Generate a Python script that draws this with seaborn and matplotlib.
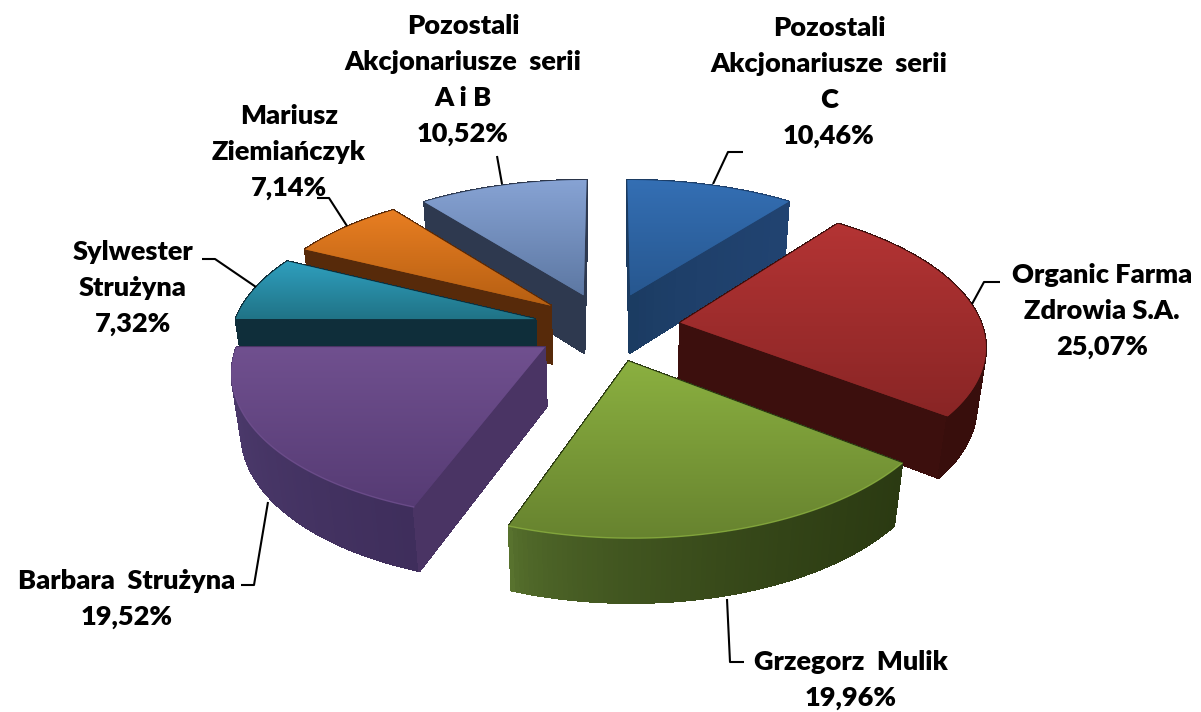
import matplotlib
matplotlib.use("Agg")
import matplotlib.pyplot as plt
import numpy as np
import seaborn as sns
from matplotlib.collections import PolyCollection
from matplotlib.colors import LinearSegmentedColormap, to_rgb
from matplotlib.path import Path
from matplotlib.transforms import Affine2D, Transform

# data
names = ["Pozostali\nAkcjonariusze  serii\nC", "Organic Farma\nZdrowia S.A.", "Grzegorz  Mulik",
         "Barbara  Strużyna", "Sylwester\nStrużyna", "Mariusz\nZiemiańczyk",
         "Pozostali\nAkcjonariusze  serii\nA i B"]
shares = [10.46, 25.07, 19.96, 19.52, 7.32, 7.14, 10.52]

# colours: top of slice (back edge, front edge), rim (left, right), cut faces
top_back = ["#346fb4", "#b43434", "#8bb040", "#70508f", "#2f9fbe", "#e87e22", "#87a3d4"]
top_front = ["#27578f", "#892525", "#67832f", "#563b74", "#207386", "#b65f12", "#5d78a3"]
side_left = ["#1a3a5f", "#3f100e", "#58722e", "#4c3a6c", "#0f2f3b", "#5a2b0b", "#333f57"]
side_right = ["#214371", "#380e0c", "#2b3a12", "#3a2a56", "#0f2d38", "#512608", "#2a3448"]
side_cut = ["#1c3e68", "#3c0f0d", "#2b3a12", "#4a3464", "#0f2e3a", "#572a0a", "#2e394f"]

# label layout, pixels
label_xy = [(829, 82), (1102, 311), (851, 680), (127, 599), (133, 288), (289, 152), (463, 80)]
leaders_x = [[743, 728, 713], [1000, 984, 972], [744, 730, 727], [241, 254, 268],
             [202, 215, 256], [317, 329, 347], [497, 502]]
leaders_y = [[152, 152, 184], [282, 282, 304], [662, 662, 599], [585, 585, 502],
             [259, 259, 287], [198, 198, 226], [156, 184]]

# camera fitted to the picture
CX, CY, FX, FY, PERSP, DEPTH, SHRINK = 607, 327, 302, 140.4, 0.144, 60, 0.025
N_EDGE, N_ARC = 24, 90


def project(xy, z=0.0):
    xy = np.asarray(xy, dtype=float)
    s = 1 / (1 + PERSP * xy[:, 1] + SHRINK * z)
    return np.column_stack([CX + FX * xy[:, 0] * s, CY - FY * xy[:, 1] * s + DEPTH * z * s])


class Tilt(Transform):
    input_dims = output_dims = 2

    def transform_non_affine(self, values):
        return project(values)

    def transform_path_non_affine(self, path):
        poly = path.to_polygons(Affine2D().scale(800), closed_only=True)[0] / 800
        return Path(project(poly))


def outline(w):
    t = np.radians(np.linspace(w.theta1, w.theta2, N_ARC))
    c = np.asarray(w.center)
    arc = c + w.r * np.column_stack([np.cos(t), np.sin(t)])
    f = np.linspace(0, 1, N_EDGE)[:, None]
    return np.vstack([c + f * (arc[0] - c), arc[1:], arc[-1] + f[1:] * (c - arc[-1])]), arc


sns.set_theme(style="white")
plt.rcParams["font.family"] = ["Lato", "DejaVu Sans"]

fig = plt.figure(figsize=(12.01, 7.12), dpi=100)
ax = fig.add_axes([0, 0, 1, 1])

wedges, _ = ax.pie(shares, explode=[0.246] * len(shares), startangle=90, counterclock=False, radius=1)
ax.set_aspect("auto")

# sides, back slices first
order = sorted(range(len(wedges)), key=lambda i: -wedges[i].center[1])
for rank, i in enumerate(order):
    w = wedges[i]
    ring, _arc = outline(w)
    up = project(ring, 0)
    down = project(ring, 1)
    quads = np.stack([up[:-1], up[1:], down[1:], down[:-1]], axis=1)
    keep = np.argsort(-ring[:-1, 1])
    xs = quads[:, :, 0].mean(axis=1)
    frac = ((xs - xs.min()) / (xs.max() - xs.min())) ** 0.55
    cols = (1 - frac[:, None]) * np.array(to_rgb(side_left[i])) + frac[:, None] * np.array(to_rgb(side_right[i]))
    is_arc = np.zeros(len(quads), dtype=bool)
    is_arc[N_EDGE - 1:N_EDGE - 1 + N_ARC - 1] = True
    if i != 0:
        cols[~is_arc] = to_rgb(side_cut[i])
    ax.add_collection(PolyCollection(quads[keep], facecolors=cols[keep], edgecolors=cols[keep],
                                     linewidths=1.0, antialiaseds=False, zorder=2 + rank))

# top faces: the pie wedges themselves, with a vertical gradient clipped to them
for i, w in enumerate(wedges):
    w.set_transform(Tilt() + ax.transData)
    w.set_facecolor(top_front[i])
    w.set_edgecolor("none")
    w.set_zorder(20)
    ring, arc = outline(w)
    pts = project(ring)
    cmap = LinearSegmentedColormap.from_list(f"top{i}", [top_back[i], top_front[i]])
    im = ax.imshow(np.linspace(0, 1, 256)[:, None], cmap=cmap, aspect="auto", origin="upper",
                   extent=(pts[:, 0].min(), pts[:, 0].max(), pts[:, 1].max(), pts[:, 1].min()),
                   zorder=21, interpolation="bilinear")
    im.set_clip_path(w)
    # thin light rim on the front arc
    if shares[i] > 19 and i != 1:
        rim = project(arc)
        ax.plot(rim[:, 0], rim[:, 1], color=top_back[i], lw=1.0, alpha=0.8, zorder=22)

# labels and leader lines
for name, share, (lx, ly) in zip(names, shares, label_xy):
    text = name + "\n" + f"{share:.2f}".replace(".", ",") + "%"
    ax.text(lx, ly, text, ha="center", va="center", fontsize=19.5, fontweight=800,
            color="black", linespacing=1.6, zorder=30)
for xs, ys in zip(leaders_x, leaders_y):
    ax.plot(xs, ys, color="black", lw=1.5, zorder=25, solid_capstyle="butt")

ax.set_xlim(0, 1201)
ax.set_ylim(712, 0)
ax.axis("off")
fig.savefig("out.png", dpi=100, facecolor="white")
